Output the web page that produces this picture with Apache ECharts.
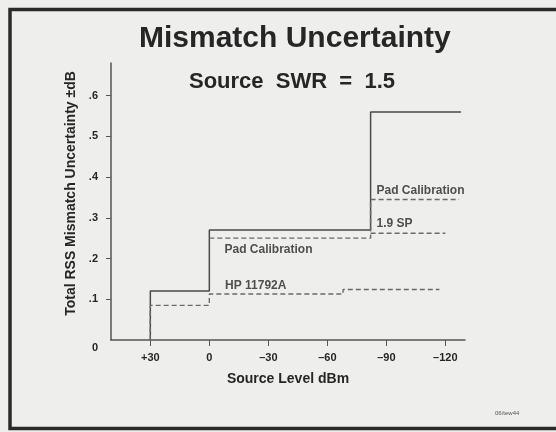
<!DOCTYPE html>
<html>
<head>
<meta charset="utf-8">
<script src="https://cdn.jsdelivr.net/npm/echarts@6/dist/echarts.min.js"></script>
<style>
  html, body { margin: 0; padding: 0; background: #eeeeec; }
  #chart { width: 556px; height: 432px; }
</style>
</head>
<body>
<div id="chart"></div>
<script>
// source level (dBm) tick marks and uncertainty ticks
const xTicks = [30, 0, -30, -60, -90, -120]
const yTicks = [0.1, 0.2, 0.3, 0.4, 0.5, 0.6]
const yLabels = [0, 0.1, 0.2, 0.3, 0.4, 0.5, 0.6]

// step curves, [source level, uncertainty]
const totalRss = [[30, 0], [30, 0.12], [0, 0.12], [0, 0.27], [-82, 0.27], [-82, 0.56], [-128, 0.56]]
const hp11792a = [[30, 0], [30, 0.085], [0, 0.085], [0, 0.113], [-68, 0.113], [-68, 0.124], [-117, 0.124]]
const padCal = [[0, 0.25], [-82, 0.25], [-82, 0.345], [-127, 0.345]]
const sp19 = [[-82, 0.262], [-120, 0.262]]

// curve labels
const noteNames = ['HP 11792A', 'Pad Calibration', 'Pad Calibration', '1.9 SP']
const noteX = [-8, -7.7, -85, -85]
const noteY = [0.134, 0.221, 0.367, 0.285]

const font = 'Liberation Sans'
const ink = '#262626'

const myChart = echarts.init(document.getElementById('chart'))

const dashed = (name, data) => ({
  name: name,
  type: 'line',
  data: data,
  symbol: 'none',
  silent: true,
  lineStyle: { color: '#6a6a6a', width: 1.4, type: [5, 3] }
})

myChart.setOption({
  backgroundColor: '#eeeeec',
  animation: false,
  title: [
    {
      text: 'Mismatch Uncertainty',
      left: 134,
      top: 19,
      textStyle: { fontFamily: font, fontSize: 30, fontWeight: 'bold', color: ink }
    },
    {
      text: 'Source  SWR  =  1.5',
      left: 184,
      top: 66,
      textStyle: { fontFamily: font, fontSize: 22, fontWeight: 'bold', color: ink }
    }
  ],
  // slide frame
  graphic: [
    {
      type: 'rect',
      shape: { x: 10, y: 9.5, width: 600, height: 419 },
      style: { fill: null, stroke: '#2a2a2a', lineWidth: 3.5 },
      silent: true
    },
    {
      type: 'text',
      left: 495,
      top: 410,
      style: { text: '06/tew44', fontFamily: font, fontSize: 6, fill: '#555' }
    }
  ],
  grid: { left: 111, right: 91, top: 63, bottom: 92 },
  xAxis: {
    type: 'value',
    min: -130,
    max: 50,
    inverse: true,
    name: 'Source Level dBm',
    nameLocation: 'middle',
    nameGap: 32,
    nameTextStyle: { fontFamily: font, fontSize: 14, fontWeight: 'bold', color: ink },
    axisLine: { onZero: false, lineStyle: { color: '#555', width: 1.5 } },
    axisTick: { show: true, length: 6, customValues: xTicks, lineStyle: { color: '#555' } },
    axisLabel: {
      customValues: xTicks,
      margin: 12,
      fontFamily: font,
      fontSize: 11,
      fontWeight: 'bold',
      color: ink,
      formatter: v => v > 0 ? '+' + v : (v < 0 ? '\u2013' + (-v) : '0')
    },
    splitLine: { show: false }
  },
  yAxis: {
    type: 'value',
    min: 0,
    max: 0.68,
    name: 'Total RSS Mismatch Uncertainty \u00b1dB',
    nameLocation: 'middle',
    nameGap: 33,
    nameTextStyle: { fontFamily: font, fontSize: 14, fontWeight: 'bold', color: ink, padding: [0, 0, 0, 16] },
    axisLine: { show: true, onZero: false, lineStyle: { color: '#555', width: 1.5 } },
    axisTick: { show: true, length: 5, customValues: yTicks, lineStyle: { color: '#555' } },
    axisLabel: {
      customValues: yLabels,
      margin: 13,
      fontFamily: font,
      fontSize: 11,
      fontWeight: 'bold',
      color: ink,
      formatter: v => v === 0 ? '{z|0}' : '.' + Math.round(v * 10),
      rich: { z: { fontFamily: font, fontSize: 11, fontWeight: 'bold', color: ink, padding: [16, 0, 0, 0] } }
    },
    splitLine: { show: false }
  },
  series: [
    {
      name: 'Total',
      type: 'line',
      data: totalRss,
      symbol: 'none',
      silent: true,
      lineStyle: { color: '#4a4a4a', width: 1.5 }
    },
    dashed('HP 11792A', hp11792a),
    dashed('Pad Calibration', padCal),
    dashed('1.9 SP', sp19),
    {
      name: 'notes',
      type: 'scatter',
      symbolSize: 0,
      silent: true,
      data: noteNames.map((n, i) => ({ name: n, value: [noteX[i], noteY[i]] })),
      label: {
        show: true,
        position: 'right',
        distance: 0,
        formatter: p => p.name,
        fontFamily: font,
        fontSize: 12,
        fontWeight: 'bold',
        color: ink
      }
    }
  ]
})
</script>
</body>
</html>
